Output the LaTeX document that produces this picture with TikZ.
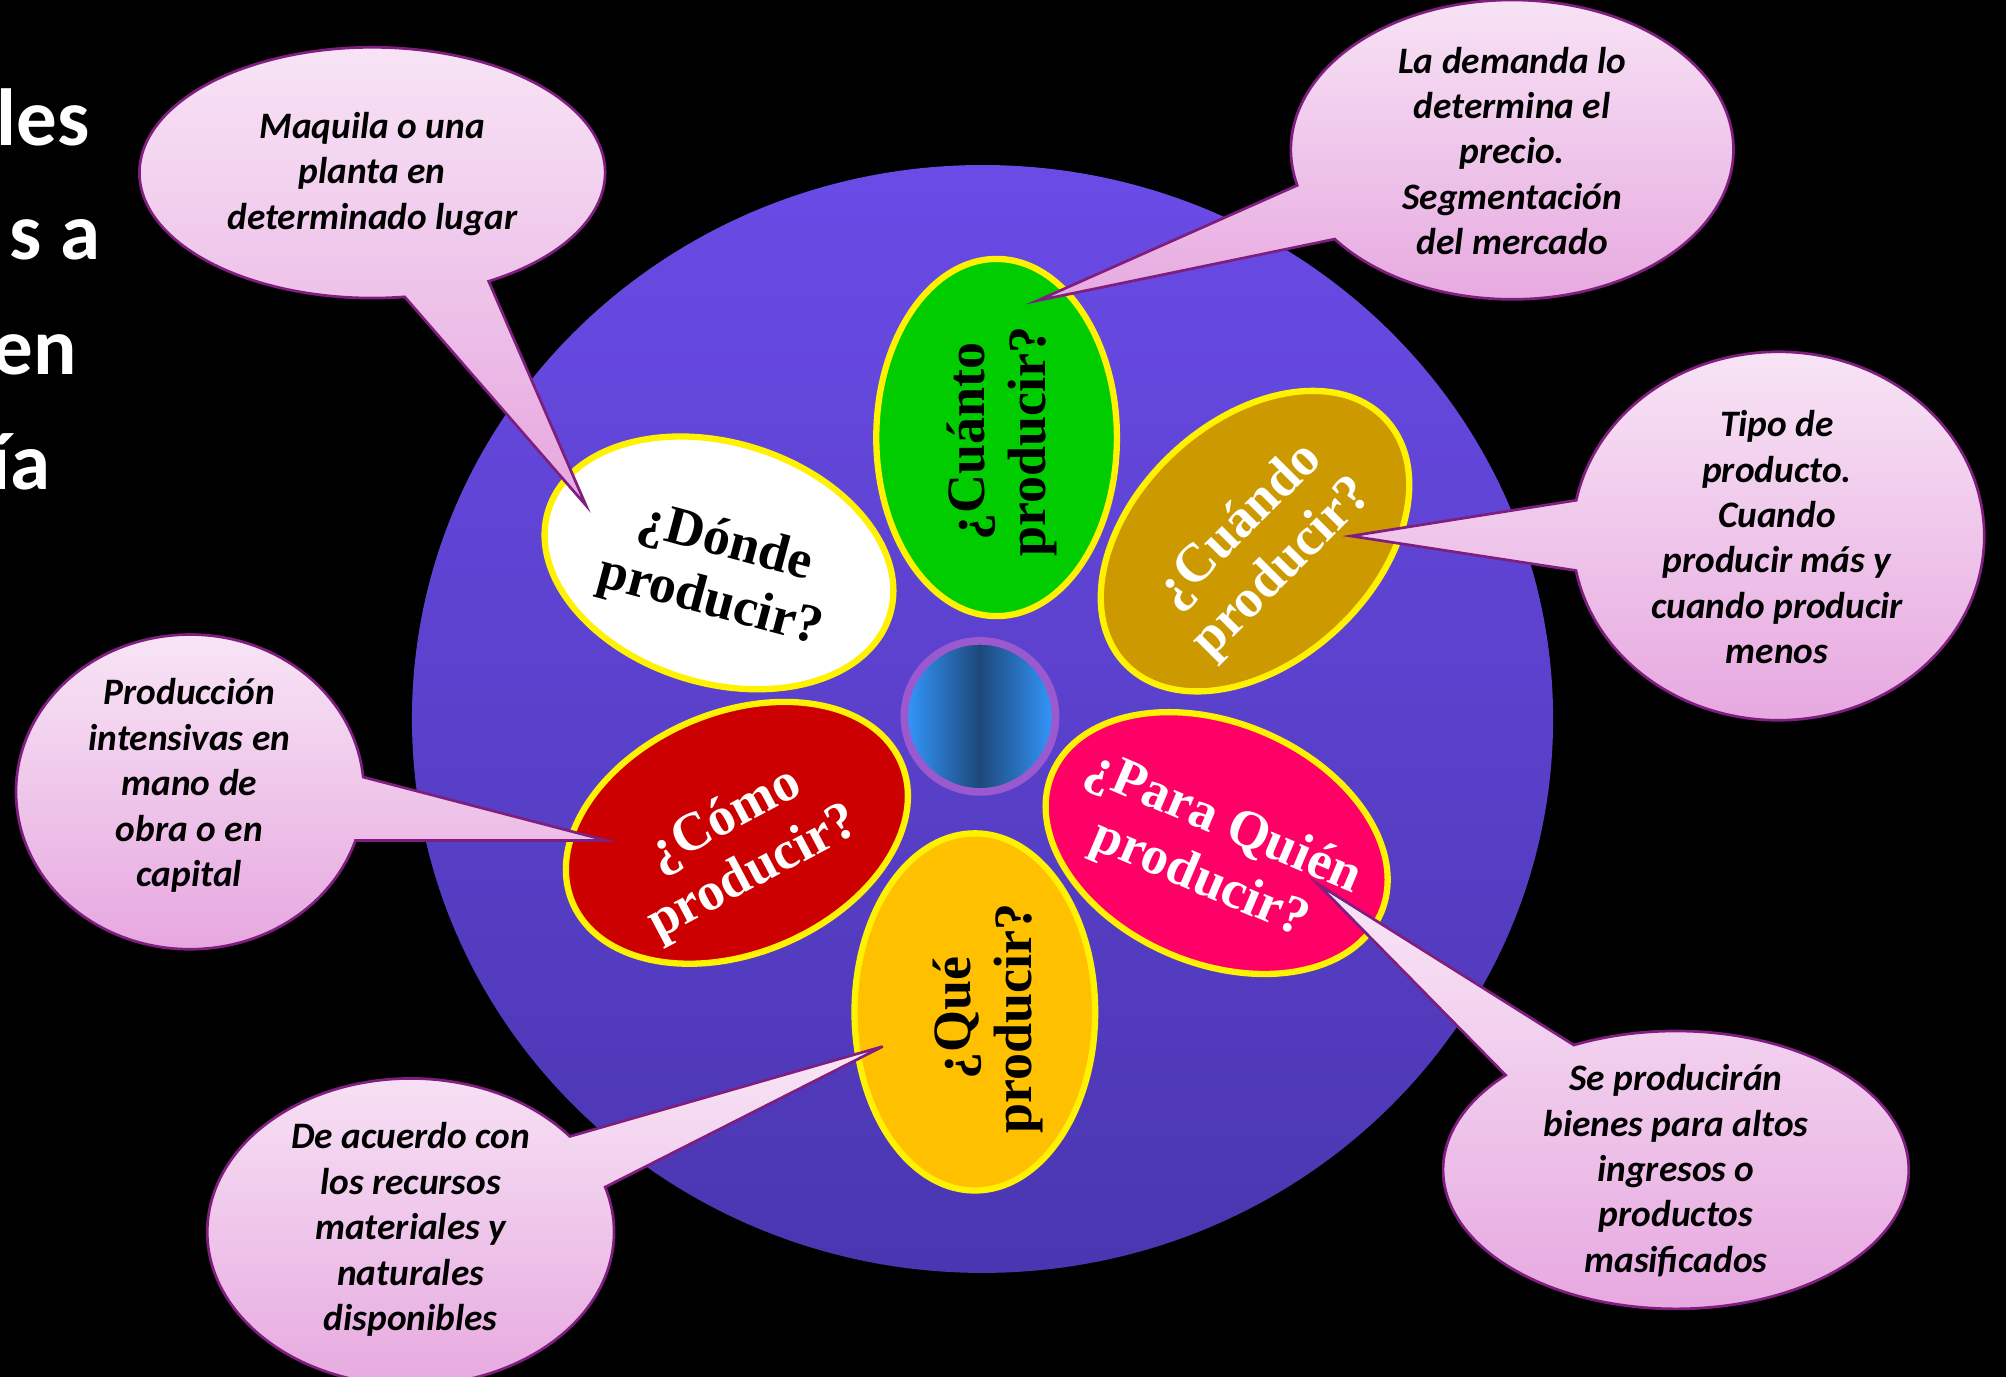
\documentclass[tikz,border=0pt]{standalone}
\usepackage{fontspec}
\setmainfont{Liberation Serif}
\newfontfamily\calibri{Carlito}
\usetikzlibrary{shapes.geometric}

\definecolor{circtop}{RGB}{106,75,230}
\definecolor{circbot}{RGB}{74,54,176}
\definecolor{ringc}{RGB}{155,89,208}
\definecolor{hubl}{RGB}{51,153,255}
\definecolor{hubd}{RGB}{30,72,122}
\definecolor{bubtop}{RGB}{248,230,246}
\definecolor{bubbot}{RGB}{230,166,223}
\definecolor{bubline}{RGB}{128,30,128}
\definecolor{cgreen}{RGB}{0,204,0}
\definecolor{cgold}{RGB}{204,153,0}
\definecolor{cpink}{RGB}{255,0,102}
\definecolor{corange}{RGB}{255,192,0}
\definecolor{cred}{RGB}{204,0,0}

\begin{document}
\begin{tikzpicture}[x=0.01cm,y=0.01cm]
				\tikzstyle{petal}=[ellipse,draw=yellow,line width=1.4pt,minimum width=2.79cm,minimum height=1.88cm,inner sep=0pt]
				\tikzstyle{qtext}=[font=\fontsize{12}{13.5}\selectfont\bfseries,align=center,inner sep=0pt]
				\tikzstyle{bubble}=[draw=bubline,line width=0.6pt,top color=bubtop,bottom color=bubbot]
				\tikzstyle{btext}=[font=\calibri\fontsize{8.3}{10.1}\selectfont\bfseries\itshape,align=center,inner sep=0pt]
				\tikzstyle{title}=[font=\calibri\fontsize{18}{25.5}\selectfont\bfseries,text=white,anchor=base east,inner sep=0pt]
				\fill[black] (0,0) rectangle (1568,1076);
				\clip (0,0) rectangle (1568,1076);
				% title, cut at the left edge
				\node[title](t1) at (71,962){les};
				\node[title](t2) at (79,873){s a};
				\node[title](t3) at (61,783){en};
				\node[title](t4) at (40,693){ía};
				% flower
				\shade[top color=circtop,bottom color=circbot] (768,514) ellipse [x radius=446,y radius=433];
				\node[circle,draw=ringc,line width=1.7pt,minimum size=1.18cm,left color=hubl,right color=hubl,middle color=hubd](hub) at (766,516){};
				\node[petal,fill=white,rotate=-17](donde) at (562,636){};
				\node[petal,fill=cgreen,rotate=90](cuanto) at (779,734){};
				\node[petal,fill=cgold,rotate=43](cuando) at (981,653){};
				\node[petal,fill=cpink,rotate=-23](paraquien) at (951,417){};
				\node[petal,fill=corange,rotate=90](que) at (762,285){};
				\node[petal,fill=cred,rotate=23](como) at (576,425){};
				\node[qtext,rotate=-15](donde-t) at (561,628){¿Dónde\\producir?};
				\node[qtext,rotate=90](cuanto-t) at (783,731){¿Cuánto\\producir?};
				\node[qtext,white,rotate=45](cuando-t) at (986,648){¿Cuándo\\producir?};
				\node[qtext,white,rotate=-23](paraquien-t) at (947,410){¿Para Quién\\producir?};
				\node[qtext,rotate=90](que-t) at (772,280){¿Qué\\producir?};
				\node[qtext,white,rotate=28](como-t) at (578,414){¿Cómo\\producir?};
				% callouts
				\coordinate (tipA) at (458,681);
				\coordinate (tipB) at (811,841);
				\coordinate (tipC) at (1056,657);
				\coordinate (tipD) at (1030,385);
				\coordinate (tipE) at (690,258);
				\coordinate (tipF) at (474,419);
				\draw[bubble] (291,941) ++(-60:182 and 98) arc[start angle=-60,end angle=278,x radius=182,y radius=98] -- (tipA) -- cycle;
				\draw[bubble] (1182,959) ++(216.7:173 and 117) arc[start angle=216.7,end angle=553.8,x radius=173,y radius=117] -- (tipB) -- cycle;
				\draw[bubble] (1390,657) ++(190.8:161 and 144) arc[start angle=190.8,end angle=528.8,x radius=161,y radius=144] -- (tipC) -- cycle;
				\draw[bubble] (1310,161.5) ++(137:182 and 108.6) arc[start angle=137,end angle=476,x radius=182,y radius=108.6] -- (tipD) -- cycle;
				\draw[bubble] (321,113) ++(38.5:159 and 120) arc[start angle=38.5,end angle=377,x radius=159,y radius=120] -- (tipE) -- cycle;
				\draw[bubble] (148.5,457) ++(5.4:136 and 123) arc[start angle=5.4,end angle=342,x radius=136,y radius=123] -- (tipF) -- cycle;
				\node[btext](maquila) at (291,940){Maquila o una\\planta en\\determinado lugar};
				\node[btext](demanda) at (1182,958){La demanda lo\\determina el\\precio.\\Segmentación\\del mercado};
				\node[btext](tipo) at (1389,656){Tipo de\\producto.\\Cuando\\producir más y\\cuando producir\\menos};
				\node[btext](bienes) at (1310,161){Se producirán\\bienes para altos\\ingresos o\\productos\\masificados};
				\node[btext](acuerdo) at (321,115){De acuerdo con\\los recursos\\materiales y\\naturales\\disponibles};
				\node[btext](intensivas) at (148,462){Producción\\intensivas en\\mano de\\obra o en\\capital};
			\end{tikzpicture}
\end{document}
